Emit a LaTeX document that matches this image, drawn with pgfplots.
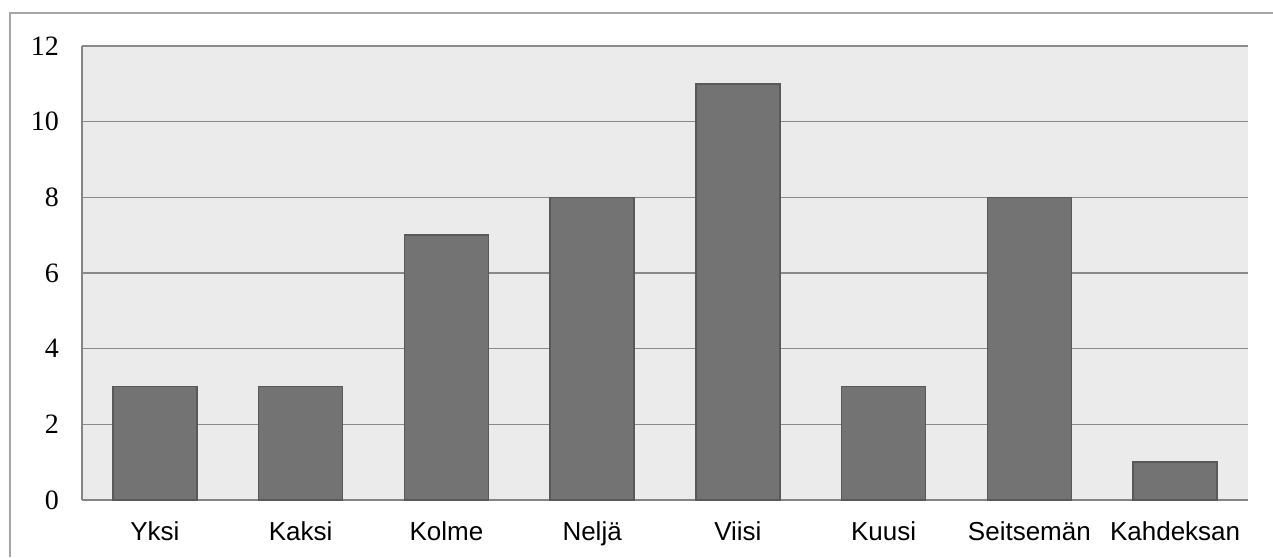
\documentclass[border=0pt]{standalone}
\usepackage{fontspec}
\setmainfont{Liberation Sans}
\newfontfamily\numfont{Liberation Serif}
\usepackage{pgfplots}
\pgfplotsset{compat=1.18}

\definecolor{plotbg}{HTML}{EBEBEB}
\definecolor{barfill}{HTML}{737373}
\definecolor{baredge}{HTML}{595959}
\definecolor{gridc}{HTML}{8A8A8A}
\definecolor{axisc}{HTML}{858585}
\definecolor{framec}{HTML}{A6A6A6}

\begin{document}
\begin{tikzpicture}
  \useasboundingbox (0,0) rectangle (636.5pt,278.5pt);
  % outer chart frame (left and top edges)
  \draw[framec, line width=1pt] (5pt,0pt) -- (5pt,272pt) -- (636.5pt,272pt);
  \begin{axis}[
    at={(41pt,28.5pt)}, anchor=south west,
    scale only axis, width=583pt, height=227pt,
    xmin=-0.5, xmax=7.5, ymin=0, ymax=12,
    ybar, bar width=42pt, bar shift=0pt,
    xtick={0,1,2,3,4,5,6,7},
    xticklabels={Yksi,Kaksi,Kolme,Neljä,Viisi,Kuusi,Seitsemän,Kahdeksan},
    ytick={0,2,4,6,8,10,12},
    major tick length=0pt,
    axis background/.style={fill=plotbg},
    axis x line*=bottom, axis y line*=left,
    axis line style={axisc, line width=1.4pt},
    ymajorgrids, grid style={gridc, line width=0.8pt},
    /pgf/number format/assume math mode=true,
    yticklabel style={font=\numfont\fontsize{14}{16}\selectfont, xshift=-8pt},
    xticklabel style={font=\fontsize{13}{15}\selectfont, yshift=-7.5pt},
    separate axis lines,
    axis on top=false,
  ]
    \addplot[fill=barfill, draw=baredge, line width=0.7pt] coordinates {
      (0,3) (1,3) (2,7) (3,8) (4,11) (5,3) (6,8) (7,1)
    };
  \end{axis}
\end{tikzpicture}
\end{document}
